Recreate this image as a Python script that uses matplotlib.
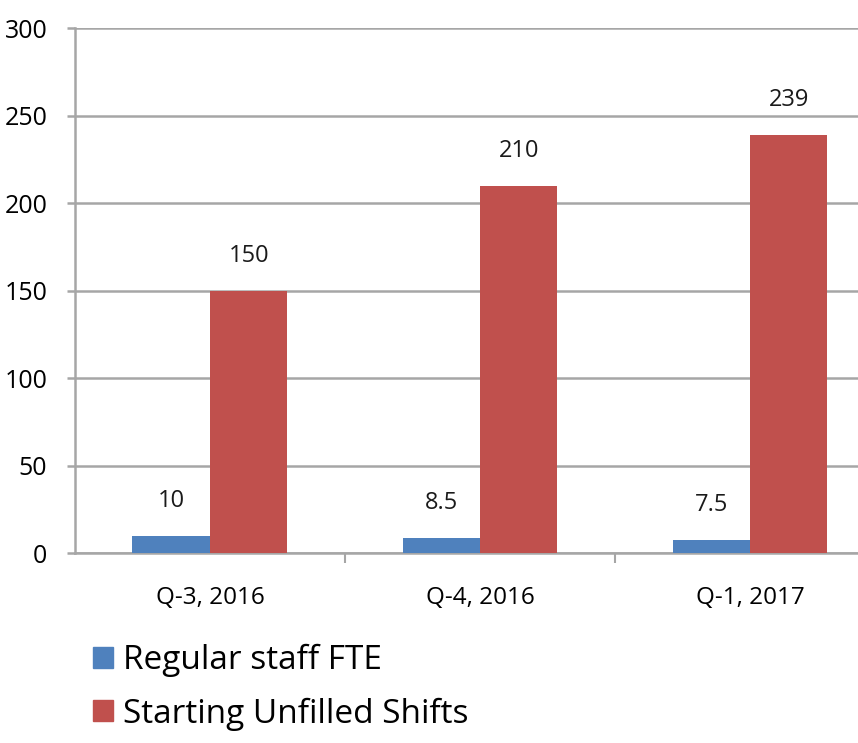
import numpy as np
import matplotlib.pyplot as plt
from matplotlib.patches import Patch

plt.rcParams['font.family'] = ['Open Sans', 'DejaVu Sans']

quarters = ['Q-3, 2016', 'Q-4, 2016', 'Q-1, 2017']
staff_fte = [10, 8.5, 7.5]
unfilled_shifts = [150, 210, 239]
series_names = ['Regular staff FTE', 'Starting Unfilled Shifts']
blue = '#4F81BD'
red = '#C0504D'
grid_col = '#A6A6A6'

fig = plt.figure(figsize=(8.58, 7.43), dpi=100)
ax = fig.add_axes([0.0874, 0.2557, 0.9126, 0.7066])

x = np.arange(len(quarters))
w = 0.287
b1 = ax.bar(x - w/2, staff_fte, w, color=blue, zorder=3)
b2 = ax.bar(x + w/2, unfilled_shifts, w, color=red, zorder=3)

for rects, vals in [(b1, staff_fte), (b2, unfilled_shifts)]:
    for r, v in zip(rects, vals):
        ax.annotate('%g' % v, (r.get_x() + r.get_width()/2, v),
                    xytext=(0, 25), textcoords='offset points',
                    ha='center', va='center', fontsize=17, color='#1a1a1a')

ax.set_ylim(0, 300)
ax.set_xlim(-0.5, 2.4)
ax.set_yticks(np.arange(0, 301, 50))
ax.yaxis.grid(True, color=grid_col, linewidth=1.8, zorder=0)
ax.tick_params(axis='y', length=6, width=1.8, color=grid_col, labelsize=18, pad=14)

ax.set_xticks([0.5, 1.5])
ax.set_xticklabels([])
ax.set_xticks(x, minor=True)
ax.set_xticklabels(quarters, minor=True)
ax.tick_params(axis='x', which='major', length=7, width=1.5, color=grid_col, direction='out')
ax.tick_params(axis='x', which='minor', length=0, labelsize=17.5, pad=24)

for s in ['top', 'right']:
    ax.spines[s].set_visible(False)
for s in ['left', 'bottom']:
    ax.spines[s].set_color(grid_col)
    ax.spines[s].set_linewidth(1.8)

handles = [Patch(color=blue), Patch(color=red)]
fig.legend(handles, series_names, loc='upper left', bbox_to_anchor=(0.108, 0.133),
           frameon=False, fontsize=24, handlelength=0.6, handleheight=0.6,
           handletextpad=0.3, labelspacing=0.6, borderaxespad=0, borderpad=0)

fig.savefig('out.png', dpi=100)
